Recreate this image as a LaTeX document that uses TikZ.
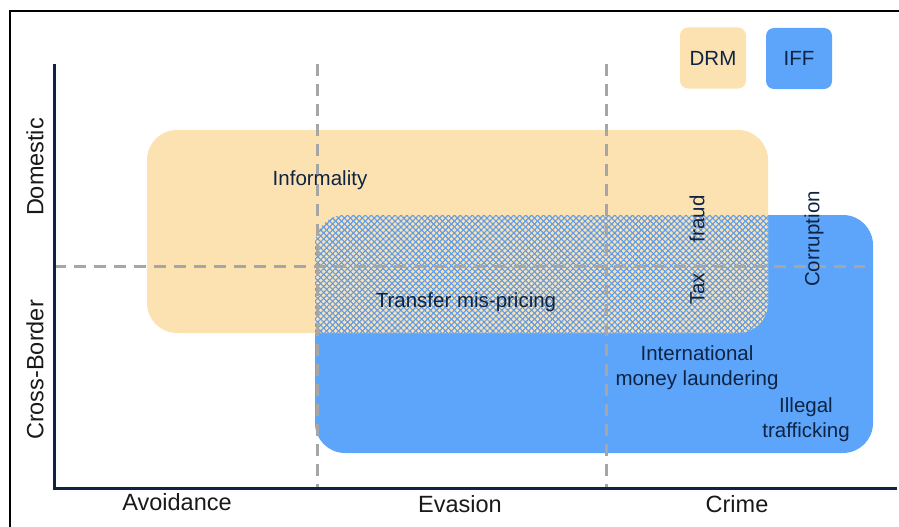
\documentclass[tikz,border=0pt]{standalone}
\usepackage{fontspec}
\setmainfont{Liberation Sans}
\usetikzlibrary{patterns.meta}
\definecolor{drm}{HTML}{FCE1B1}
\definecolor{iff}{HTML}{5CA5FA}
\definecolor{navy}{HTML}{0E2442}
\definecolor{dashgray}{HTML}{A6A6A6}
\definecolor{hatchblue}{HTML}{5C9CEC}
\tikzset{
  inlabel/.style={text=navy, font=\fontsize{20.5}{25}\selectfont, inner sep=0pt, align=center},
  axlabel/.style={text=black!90, font=\fontsize{23.5}{27}\selectfont, inner sep=0pt},
  gridline/.style={draw=dashgray, line width=3pt, dash pattern=on 12pt off 8pt},
  axisline/.style={draw=navy, line width=3pt},
  legendbox/.style={rounded corners=8pt, minimum width=66pt, minimum height=61pt, inner sep=0pt, text=navy, font=\fontsize{20.5}{24}\selectfont},
}
\begin{document}
\begin{tikzpicture}[x=1pt,y=-1pt]
\useasboundingbox (0,0) rectangle (899,527);
% frame
\draw[black, line width=1.3pt] (10,527) -- (10,11) -- (899,11);
% IFF region
\fill[iff, rounded corners=30pt] (315,215) rectangle (873,453);
% DRM region
\fill[drm, rounded corners=30pt] (147,130) rectangle (768,333);
% overlap hatch
\begin{scope}
  \clip[rounded corners=30pt] (147,130) rectangle (768,333);
  \fill[rounded corners=30pt, pattern={Lines[angle=45,distance=4.2pt,line width=1.1pt]}, pattern color=hatchblue] (315,215) rectangle (873,453);
  \fill[rounded corners=30pt, pattern={Lines[angle=-45,distance=4.2pt,line width=1.1pt]}, pattern color=hatchblue] (315,215) rectangle (873,453);
\end{scope}
% dashed grid
\coordinate (v1t) at (317,64); \coordinate (v1b) at (317,488);
\coordinate (v2t) at (606,64); \coordinate (v2b) at (606,488);
\coordinate (hl) at (54,266); \coordinate (hr) at (865,266);
\draw[gridline] (v1t) -- (v1b);
\draw[gridline] (v2t) -- (v2b);
\draw[gridline] (hl) -- (hr);
% axes
\coordinate (ytop) at (54,64); \coordinate (origin) at (54,488); \coordinate (xend) at (897,488);
\draw[axisline] (ytop) -- (origin) -- (xend);
% labels inside
\node[inlabel] (informality) at (320,180) {Informality};
\node[inlabel] (transfer) at (466,302) {Transfer mis-pricing};
\node[inlabel, rotate=90] (taxfraud) at (697,250) {Tax\hspace{1.5em}fraud};
\node[inlabel, rotate=90] (corruption) at (814,239) {Corruption};
\node[inlabel] (iml) at (697,368) {International\\money laundering};
\node[inlabel] (illegal) at (806,420) {Illegal\\trafficking};
% axis labels
\node[axlabel] (avoid) at (177,502) {Avoidance};
\node[axlabel] (evasion) at (460,504) {Evasion};
\node[axlabel] (crime) at (737,504) {Crime};
\node[axlabel, rotate=90] (domestic) at (35,167) {Domestic};
\node[axlabel, rotate=90] (cross) at (35,370) {Cross-Border};
% legend
\node[legendbox, fill=drm] (legdrm) at (713,58) {DRM};
\node[legendbox, fill=iff] (legiff) at (799,58.5) {IFF};
\end{tikzpicture}
\end{document}
